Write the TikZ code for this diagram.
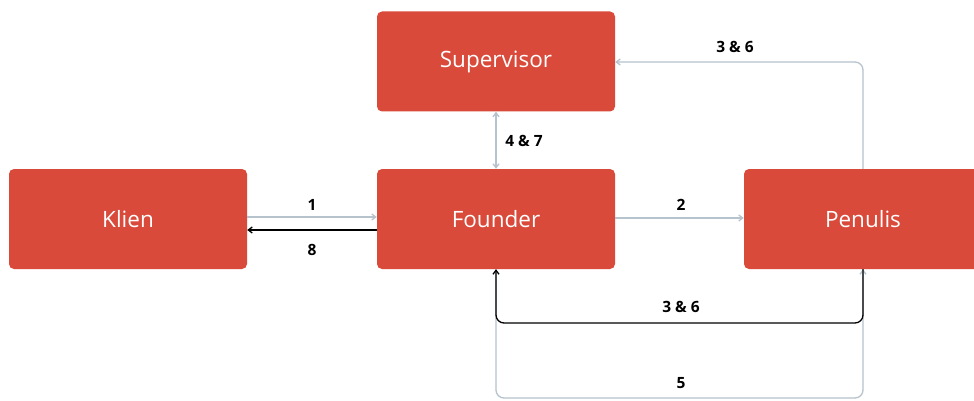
\documentclass[tikz,border=0pt]{standalone}
\usepackage{fontspec}
\setmainfont{Open Sans}
\usetikzlibrary{arrows.meta}
\definecolor{boxred}{HTML}{D94A3A}
\definecolor{linegrey}{HTML}{B6C2CC}
\tikzset{
  box/.style={fill=boxred, rounded corners=5pt, minimum width=238pt, minimum height=100pt, inner sep=0pt, text=white, font=\fontsize{22.5}{26}\selectfont},
  greyarrow/.style={draw=linegrey, line width=1.3pt, -{Straight Barb[length=4pt,width=6pt]}},
  blackarrow/.style={draw=black, line width=1.3pt, -{Straight Barb[length=4pt,width=6pt]}},
  lbl/.style={font=\bfseries\fontsize{15.5}{18}\selectfont, text=black, inner sep=1pt},
}
\begin{document}
\begin{tikzpicture}[x=1pt,y=-1pt]
\useasboundingbox (0,0) rectangle (974,401);
\clip (0,0) rectangle (974,401);
\node[box] (sup) at (496,61.5) {Supervisor};
\node[box] (kl) at (128,219) {Klien};
\node[box] (fo) at (496,219) {Founder};
\node[box] (pe) at (863,219) {Penulis};
% 1 and 8
\draw[greyarrow] ([yshift=2pt]kl.east) -- ([yshift=2pt]fo.west);
\draw[blackarrow] ([yshift=-11pt]fo.west) -- ([yshift=-11pt]kl.east);
\node[lbl] (l1) at (312,205) {1};
\node[lbl] (l8) at (312,250) {8};
% 2
\draw[greyarrow] ([yshift=1pt]fo.east) -- ([yshift=1pt]pe.west);
\node[lbl] (l2) at (681,205) {2};
% 4 & 7
\draw[greyarrow, {Straight Barb[length=4pt,width=6pt]}-{Straight Barb[length=4pt,width=6pt]}] (sup.south) -- (fo.north);
\node[lbl] (l47) at (524,141) {4 \& 7};
% 3 & 6 top
\coordinate (c1) at (863,62);
\draw[greyarrow, rounded corners=8pt] (pe.north) -- (c1) -- (sup.east |- c1);
\node[lbl] (l36a) at (735,47) {3 \& 6};
% 5
\coordinate (c5a) at (496,398);
\coordinate (c5b) at (863,398);
\draw[greyarrow, rounded corners=8pt] (fo.south) -- (c5a) -- (c5b) -- (pe.south);
\node[lbl] (l5) at (681,383) {5};
% 3 & 6 bottom
\coordinate (c3a) at (863,323);
\coordinate (c3b) at (496,323);
\draw[blackarrow, rounded corners=8pt] (pe.south) -- (c3a) -- (c3b) -- (fo.south);
\node[lbl] (l36b) at (681,307) {3 \& 6};
\end{tikzpicture}
\end{document}
